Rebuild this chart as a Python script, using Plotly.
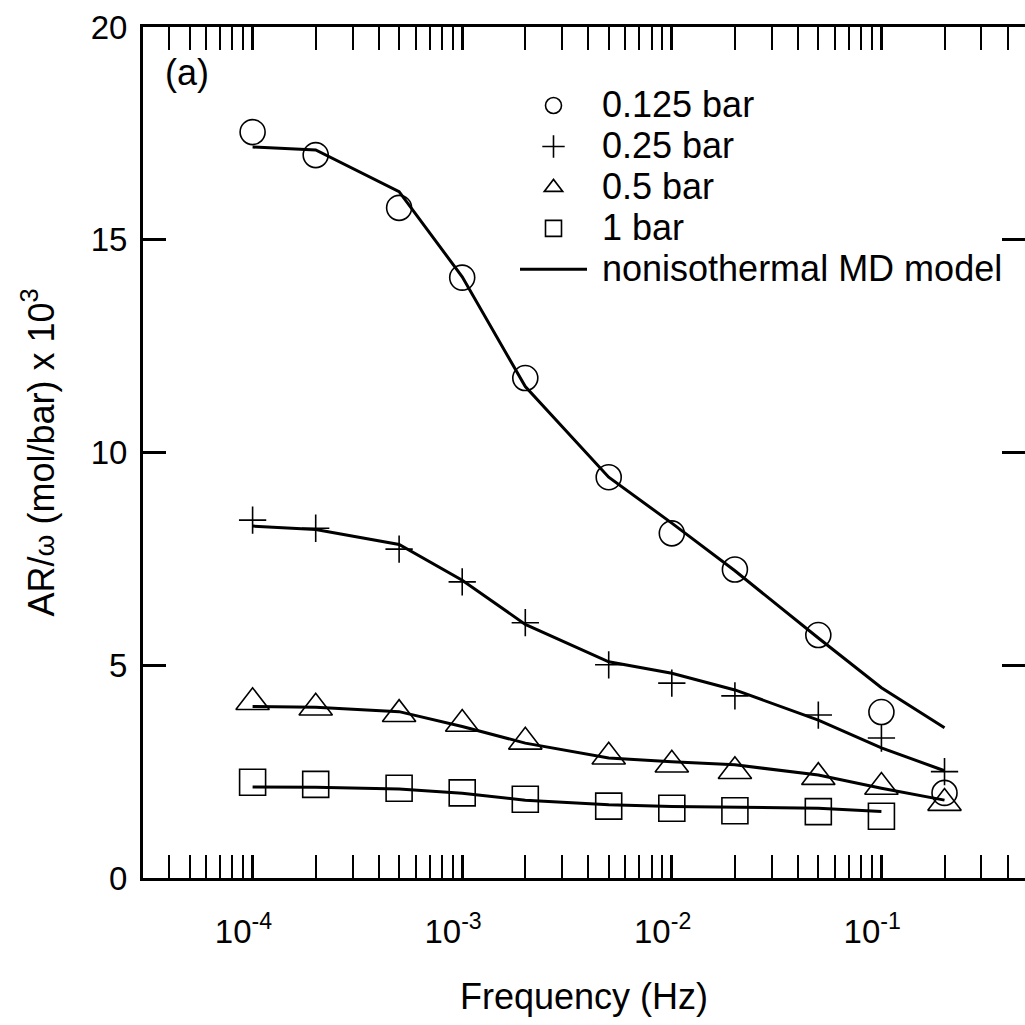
import plotly.graph_objects as go
import numpy as np

# ---- data ----
freq = [1e-4, 2e-4, 5e-4, 1e-3, 2e-3, 5e-3, 1e-2, 2e-2, 5e-2, 1e-1, 2e-1]

p0125_data = [17.53, 16.99, 15.75, 14.11, 11.75, 9.42, 8.10, 7.25, 5.71, 3.90, 2.00]
p0125_model = [17.18, 17.11, 16.13, 14.13, 11.55, 9.42, 8.34, 7.22, 5.64, 4.47, 3.53]

p025_data = [8.41, 8.22, 7.73, 6.96, 6.00, 5.01, 4.58, 4.28, 3.83, 3.29, 2.50]
p025_model = [8.27, 8.19, 7.84, 7.00, 5.96, 5.08, 4.81, 4.42, 3.71, 3.06, 2.52]

p05_data = [4.13, 4.00, 3.85, 3.62, 3.20, 2.85, 2.66, 2.51, 2.37, 2.14, 1.76]
p05_model = [4.03, 4.01, 3.91, 3.56, 3.17, 2.82, 2.73, 2.66, 2.42, 2.11, 1.83]

freq_1bar = [1e-4, 2e-4, 5e-4, 1e-3, 2e-3, 5e-3, 1e-2, 2e-2, 5e-2, 1e-1]
p1_data = [2.25, 2.20, 2.11, 2.00, 1.85, 1.69, 1.64, 1.58, 1.56, 1.45]
p1_model = [2.14, 2.13, 2.09, 1.99, 1.83, 1.72, 1.68, 1.67, 1.64, 1.56]

x_tickvals = [1e-4, 1e-3, 1e-2, 1e-1]
x_ticktext = ["10<sup>-4</sup>", "10<sup>-3</sup>", "10<sup>-2</sup>", "10<sup>-1</sup>"]
y_tickvals = [0, 5, 10, 15, 20]

FONT = "Liberation Sans, Arial, sans-serif"
NB = "\u00a0"
LEG = lambda s: f"<span style='font-size:36px'>{NB}{s}</span>"

fig = go.Figure()

series = [
    (freq, p0125_data, "circle-open", 25, "0.125 bar"),
    (freq, p025_data, "cross-thin-open", 19.5, "0.25 bar"),
    (freq, p05_data, "triangle-up-open", 29, "0.5 bar"),
    (freq_1bar, p1_data, "square-open", 26, "1 bar"),
]
for xs, ys, sym, sz, name in series:
    fig.add_trace(go.Scatter(
        x=xs, y=ys, mode="markers", name=LEG(name),
        marker=dict(symbol=sym, size=sz, color="black", line=dict(width=1.6, color="black")),
    ))

models = [(freq, p0125_model), (freq, p025_model), (freq, p05_model), (freq_1bar, p1_model)]
for i, (xs, ys) in enumerate(models):
    fig.add_trace(go.Scatter(
        x=xs, y=ys, mode="lines", name=LEG("nonisothermal MD model"),
        line=dict(color="black", width=3), showlegend=(i == 0),
    ))

# invisible trace for right-side y ticks
fig.add_trace(go.Scatter(x=[freq[0]], y=[0], yaxis="y2", mode="markers",
                         marker=dict(opacity=0), showlegend=False, hoverinfo="skip"))

fig.update_layout(
    width=1025, height=1025,
    margin=dict(l=143, r=0, t=27, b=147),
    paper_bgcolor="white", plot_bgcolor="white",
    font=dict(family=FONT, size=32, color="black"),
    showlegend=True,
    legend=dict(
        x=(515 - 143) / 882, y=1 - (80 - 27) / 851, xanchor="left", yanchor="top",
        bgcolor="rgba(0,0,0,0)", borderwidth=0,
        font=dict(family=FONT, size=29.2, color="black"),
        itemwidth=67, tracegroupgap=0,
    ),
    xaxis=dict(
        type="log", range=[np.log10(3e-5), -0.315],
        tickmode="array", tickvals=x_tickvals,
        ticktext=[t + NB + NB for t in x_ticktext],
        ticks="inside", ticklen=23, tickwidth=2.5, tickcolor="black",
        showline=True, linewidth=3, linecolor="black", mirror="allticks",
        showgrid=False, zeroline=False,
        ticklabelstandoff=22,
        tickfont=dict(family=FONT, size=33, color="black"),
        minor=dict(dtick="D1", ticks="inside", ticklen=12, tickwidth=2, tickcolor="black", showgrid=False),
        title=dict(text="Frequency (Hz)", font=dict(family=FONT, size=36, color="black"), standoff=36),
    ),
    yaxis=dict(
        range=[0, 20], tickmode="array", tickvals=y_tickvals,
        ticks="inside", ticklen=23, tickwidth=2.5, tickcolor="black",
        showline=True, linewidth=3, linecolor="black", mirror=False,
        showgrid=False, zeroline=False,
        ticklabelstandoff=6,
        tickfont=dict(family=FONT, size=33, color="black"),
        title=dict(text="AR/<span style='font-size:28px'>ω</span> (mol/bar) x 10<sup>3</sup>",
                   font=dict(family=FONT, size=36, color="black"), standoff=26),
    ),
    yaxis2=dict(
        overlaying="y", side="right", matches="y", range=[0, 20],
        tickmode="array", tickvals=y_tickvals, showticklabels=False,
        ticks="inside", ticklen=23, tickwidth=2.5, tickcolor="black",
        showline=False, showgrid=False, zeroline=False,
    ),
    annotations=[dict(
        text="(a)", xref="paper", yref="paper",
        x=(163 - 143) / 882, y=1 - (72 - 27) / 851, xanchor="left", yanchor="middle",
        showarrow=False, font=dict(family=FONT, size=36, color="black"),
    )],
)

fig.write_html("out.html")
